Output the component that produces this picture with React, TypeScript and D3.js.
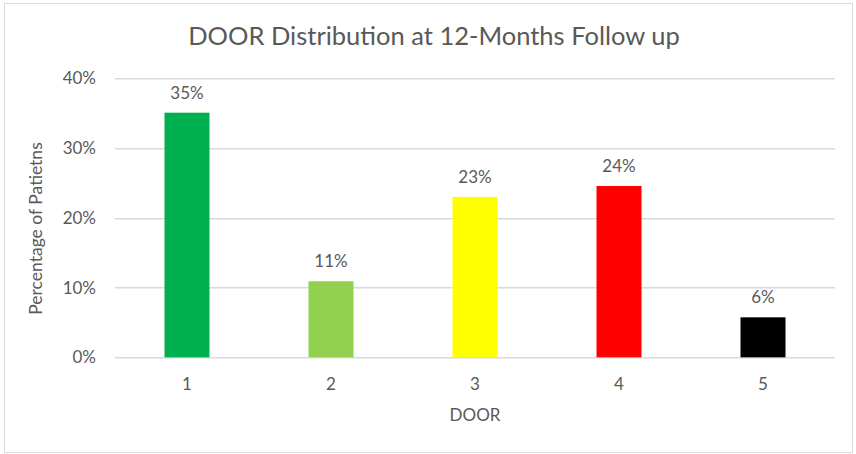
import React, { useEffect, useRef } from 'react';
import * as d3 from 'd3';

const categories = ['1', '2', '3', '4', '5'];
const values = [0.3507, 0.109, 0.23, 0.2456, 0.0573];
const valueLabels = ['35%', '11%', '23%', '24%', '6%'];
const barColors = ['#00B050', '#92D050', '#FFFF00', '#FF0000', '#000000'];
const yTicks = [0, 0.1, 0.2, 0.3, 0.4];

const FONT = 'Lato, "Open Sans", sans-serif';
const TEXT = '#595959';

export default function App() {
  const ref = useRef<SVGSVGElement>(null);

  useEffect(() => {
    document.body.style.margin = '0';
    const width = 856,
      height = 454;
    const margin = { top: 78.3, right: 21, bottom: 96.7, left: 115 };
    const innerWidth = width - margin.left - margin.right,
      innerHeight = height - margin.top - margin.bottom;

    const svg = d3.select(ref.current).attr('width', width).attr('height', height);
    svg.selectAll('*').remove();

    svg.append('rect').attr('x', 0).attr('y', 0).attr('width', width).attr('height', height).attr('fill', '#fff');
    svg.append('rect').attr('x', 4.5).attr('y', 3.5).attr('width', 848).attr('height', 449).attr('fill', 'none').attr('stroke', '#D9D9D9');

    const g = svg.append('g').attr('transform', `translate(${margin.left},${margin.top})`);

    const xScale = d3.scaleBand().domain(categories).range([0, innerWidth]).paddingInner(0.6875).paddingOuter(0.34375);
    const yScale = d3.scaleLinear().domain([0, 0.4]).range([innerHeight, 0]);

    // gridlines + y labels
    g.selectAll('.grid').data(yTicks).join('line').attr('class', 'grid')
      .attr('x1', 0).attr('x2', innerWidth)
      .attr('y1', d => Math.round(yScale(d)) + 0.5).attr('y2', d => Math.round(yScale(d)) + 0.5)
      .attr('stroke', '#D9D9D9').attr('stroke-width', 1.5);

    g.selectAll('.ylab').data(yTicks).join('text').attr('class', 'ylab')
      .attr('x', -19).attr('y', d => yScale(d)).attr('dy', '0.36em')
      .attr('text-anchor', 'end').style('font-family', FONT).style('font-size', '17px').attr('fill', TEXT)
      .text(d => d3.format('.0%')(d));

    g.selectAll('.bar').data(values).join('rect').attr('class', 'bar')
      .attr('x', (d, i) => xScale(categories[i])!).attr('width', xScale.bandwidth())
      .attr('y', d => yScale(d)).attr('height', d => innerHeight - yScale(d))
      .attr('fill', (d, i) => barColors[i]);

    g.selectAll('.vlab').data(values).join('text').attr('class', 'vlab')
      .attr('x', (d, i) => xScale(categories[i])! + xScale.bandwidth() / 2).attr('y', d => yScale(d) - 14)
      .attr('text-anchor', 'middle').style('font-family', FONT).style('font-size', '17px').attr('fill', TEXT)
      .text((d, i) => valueLabels[i]);

    g.selectAll('.xlab').data(categories).join('text').attr('class', 'xlab')
      .attr('x', d => xScale(d)! + xScale.bandwidth() / 2).attr('y', innerHeight + 33)
      .attr('text-anchor', 'middle').style('font-family', FONT).style('font-size', '17px').attr('fill', TEXT)
      .text(d => d);

    g.append('text').attr('x', innerWidth / 2).attr('y', innerHeight + 64)
      .attr('text-anchor', 'middle').style('font-family', FONT).style('font-size', '17px').attr('fill', TEXT)
      .text('DOOR');

    svg.append('text').attr('transform', 'translate(42,228.5) rotate(-90)')
      .attr('text-anchor', 'middle').style('font-family', FONT).style('font-size', '17.5px').attr('fill', TEXT)
      .text('Percentage of Patietns');

    svg.append('text').attr('x', 434).attr('y', 45)
      .attr('text-anchor', 'middle').style('font-family', FONT).style('font-size', '25.5px').attr('fill', TEXT)
      .text('DOOR Distribution at 12-Months Follow up');
  }, []);

  return <svg ref={ref}></svg>;
}
